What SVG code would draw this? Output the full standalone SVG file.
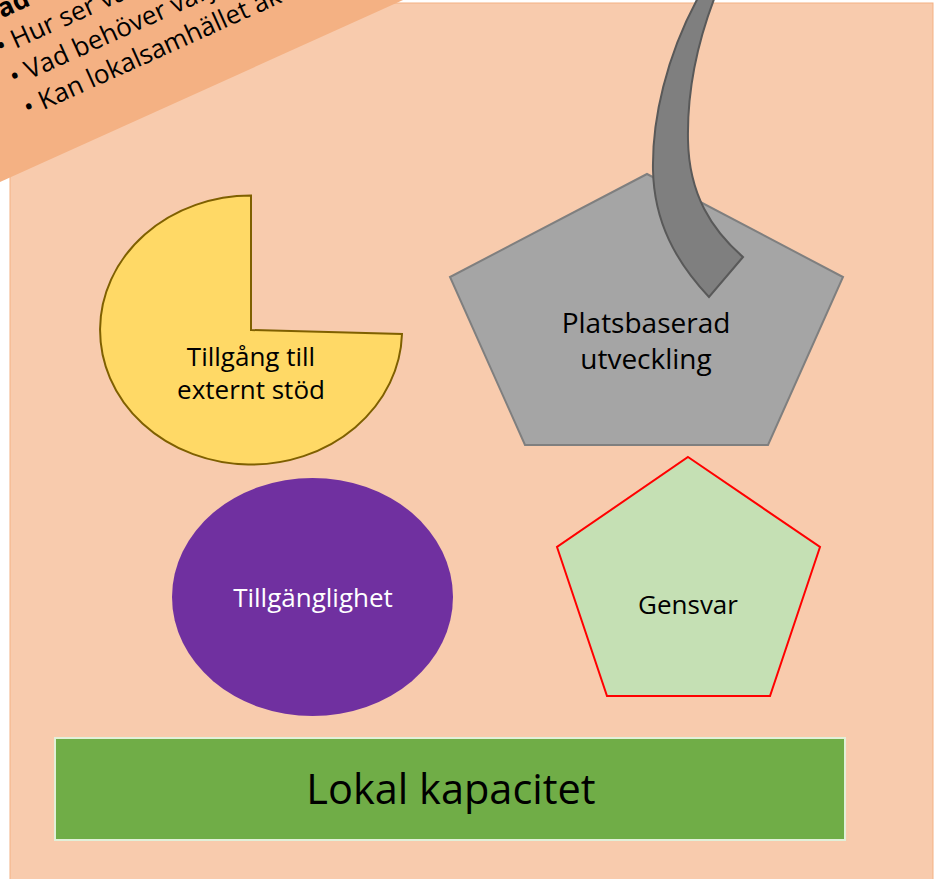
<svg xmlns="http://www.w3.org/2000/svg" width="936" height="879" viewBox="0 0 936 879">
<style>
text{font-family:"Open Sans","Noto Sans","Liberation Sans",sans-serif;fill:#000;text-anchor:middle}
.lbl{font-size:26px}
.ban{font-size:26px;text-anchor:start}
</style>
<rect width="936" height="879" fill="#ffffff"/>
<rect id="background" x="10" y="3" width="923" height="890" fill="#F8CBAD" stroke="#F4B183" stroke-width="1"/>
<g id="banner" transform="translate(27,112) rotate(-24.3)">
<rect x="-250" y="-400" width="900" height="452.7" fill="#F4B183"/>
<text class="ban" x="-1" y="-95.8" font-weight="bold">Vad</text>
<text class="ban" x="-1" y="-62.2">• Hur ser va</text>
<text class="ban" x="-1" y="-28.6">• Vad behöver varj</text>
<text class="ban" x="-1" y="5">• Kan lokalsamhället akti</text>
</g>
<g id="extern">
<path d="M251,330 L402,334 A151 134.5 0 1 1 251,195.5 Z" fill="#FFD966" stroke="#7F6000" stroke-width="2"/>
<text class="lbl" x="251" y="366">Tillgång till</text>
<text class="lbl" x="251" y="399">externt stöd</text>
</g>
<g id="platsbaserad">
<polygon points="647,174 843,277 768,445 525,445 450,277" fill="#A5A5A5" stroke="#7F7F7F" stroke-width="2"/>
<text x="646" y="333" font-size="28">Platsbaserad</text>
<text x="646" y="369" font-size="28">utveckling</text>
</g>
<g id="connectors">
<path d="M699,-4 C666,56 652,120 653,170 C654,222 676,262 709,297 L743,257 C712,230 689,195 688,140 C687,90 698,40 716,-6 Z" fill="#7F7F7F" stroke="#595959" stroke-width="2" stroke-linejoin="miter"/>
</g>
<g id="tillganglighet">
<ellipse cx="312.5" cy="597" rx="140.5" ry="119" fill="#7030A0"/>
<text class="lbl" x="313" y="607" style="fill:#ffffff">Tillgänglighet</text>
</g>
<g id="gensvar">
<polygon points="688,457 820,547 770,696 607,696 557,547" fill="#C5E0B4" stroke="#FF0000" stroke-width="2"/>
<text class="lbl" x="688" y="614">Gensvar</text>
</g>
<g id="lokal">
<rect x="55" y="738" width="790" height="102" fill="#70AD47" stroke="#E2F0D9" stroke-width="2"/>
<text x="451" y="804" font-size="41.5">Lokal kapacitet</text>
</g>
</svg>
